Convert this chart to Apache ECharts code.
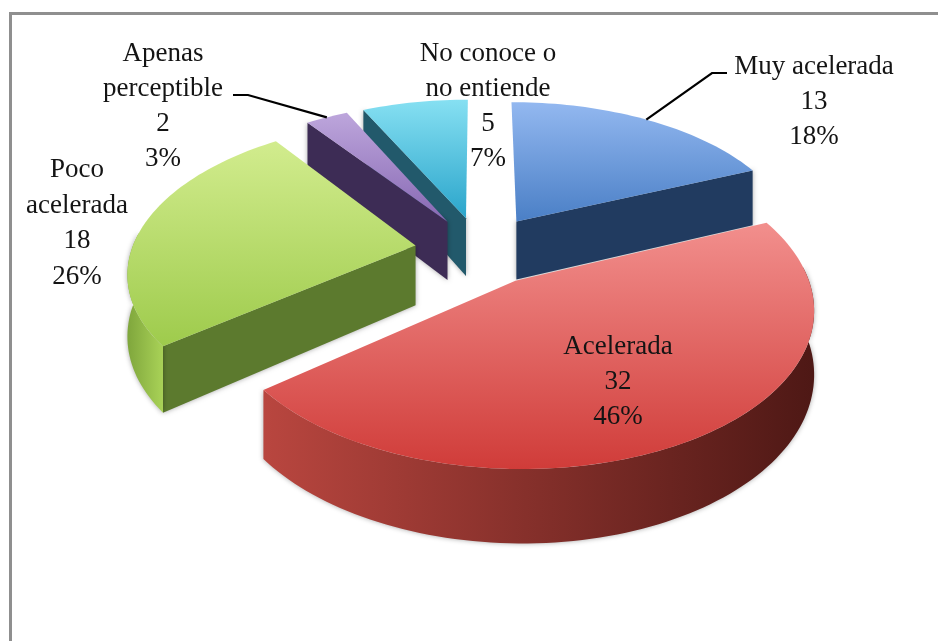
<!DOCTYPE html>
<html><head><meta charset="utf-8">
<style>html,body{margin:0;padding:0;background:#fff}#c{width:938px;height:641px}</style>
<script src="https://cdn.jsdelivr.net/npm/echarts@6/dist/echarts.min.js"></script>
</head><body><div id="c"></div>
<script>
var categories = ['Muy acelerada','Acelerada','Poco acelerada','Apenas perceptible','No conoce o no entiende'];
var labelNames = ['Muy acelerada','Acelerada','Poco\nacelerada','Apenas\nperceptible','No conoce o\nno entiende'];
var values = [13,32,18,2,5];
var percentLabels = ['18%','46%','26%','3%','7%'];

// styling
var topColors = [['#93b8f0','#4a7fc6'],['#f28f8d','#d03c39'],['#d2ec8e','#9ecb4c'],['#bda6dc','#8768b3'],['#86e0f2','#2aa5cb']];
var radialWall = ['#213b60','#7a2320','#5c7a2e','#3d2c55','#22596b'];
var outerWall = [['#213b60','#213b60'],['#b9463f','#4e1815'],['#7fa63c','#a9d257'],['#3d2c55','#3d2c55'],['#22596b','#22596b']];
var labelAnchors = [[814,67],[618,347],[77,170],[163,54],[488,54]];
var labelLineHeights = [35,35,35.5,35,35];
var leaderElbows = [[[712,73],[727,73]],null,null,[[248,95],[233,95]],null];
var explodes = [0.24,0.235,0.23,0.23,0.23];

// projection of the exploded pie
var proj = {cx:480, cy:250, A:284, B:147, k:0.161, h:60};
var total = values.reduce(function(a,b){return a+b;},0);
var rad = Math.PI/180;
function P(theta, r, mid, z, e){
  var u = r*Math.sin(theta*rad)+e*Math.sin(mid*rad);
  var v = r*Math.cos(theta*rad)+e*Math.cos(mid*rad);
  var s = 1/(1+proj.k*v);
  return [proj.cx+proj.A*u*s, proj.cy-proj.B*v*s+(z?proj.h*s:0)];
}
var angles = [], acc = 0;
values.forEach(function(v){ var a0=acc/total*360; acc+=v; angles.push([a0,acc/total*360]); });
var order = angles.map(function(a,i){return i;}).sort(function(p,q){
  return Math.cos((angles[q][0]+angles[q][1])/2*rad)-Math.cos((angles[p][0]+angles[p][1])/2*rad);
});
function grad(c){return {type:'linear',x:0,y:0,x2:0,y2:1,colorStops:[{offset:0,color:c[0]},{offset:1,color:c[1]}]};}
function gradH(c){return {type:'linear',x:0,y:0,x2:1,y2:0,colorStops:[{offset:0,color:c[0]},{offset:1,color:c[1]}]};}
function arc(a,b,mid,z,e){
  var pts=[], n=Math.max(2,Math.ceil((b-a)/1.5));
  for(var i=0;i<=n;i++) pts.push(P(a+(b-a)*i/n,1,mid,z,e));
  return pts;
}
function renderItem(params, api){
  var i = api.value(0), a = angles[i][0], b = angles[i][1], mid=(a+b)/2, e=explodes[i];
  var rank = order.indexOf(i)*10, kids=[];
  var shadow = {shadowBlur:5,shadowColor:'rgba(0,0,0,0.35)'};
  if(Math.sin(a*rad)<0) kids.push({type:'polygon',z2:rank,shape:{points:[P(0,0,mid,0,e),P(a,1,mid,0,e),P(a,1,mid,1,e),P(0,0,mid,1,e)]},style:Object.assign({fill:radialWall[i]},shadow)});
  if(Math.sin(b*rad)>0) kids.push({type:'polygon',z2:rank,shape:{points:[P(0,0,mid,0,e),P(b,1,mid,0,e),P(b,1,mid,1,e),P(0,0,mid,1,e)]},style:Object.assign({fill:radialWall[i]},shadow)});
  var oa=Math.max(a,85), ob=Math.min(b,275);
  if(ob>oa){
    kids.push({type:'polygon',z2:rank+1,shape:{points:arc(oa,ob,mid,0,e).concat(arc(oa,ob,mid,1,e).reverse())},style:Object.assign({fill:gradH(outerWall[i])},shadow)});
  }
  kids.push({type:'polygon',z2:rank+2,shape:{points:[P(0,0,mid,0,e)].concat(arc(a,b,mid,0,e))},style:{fill:grad(topColors[i])}});
  if(leaderElbows[i]){
    var tip=P(mid,1,mid,0,e);
    kids.push({type:'polyline',z2:200,shape:{points:[tip].concat(leaderElbows[i])},style:{fill:null,stroke:'#000',lineWidth:2.2}});
  }
  kids.push({type:'text',z2:210,x:labelAnchors[i][0],y:labelAnchors[i][1]-17.5,style:{
    text:labelNames[i]+'\n'+values[i]+'\n'+percentLabels[i],
    align:'center',verticalAlign:'top',
    font:'27px "Liberation Serif", serif',lineHeight:labelLineHeights[i],fill:'#141414'}});
  return {type:'group',children:kids};
}
var chart = echarts.init(document.getElementById('c'),null,{renderer:'canvas'});
chart.setOption({
  animation:false,
  backgroundColor:'#fff',
  graphic:[{type:'rect',z:-1,shape:{x:10.5,y:13.5,width:1100,height:1100},style:{fill:'#fff',stroke:'#8f8f8f',lineWidth:3}}],
  series:[{type:'custom',coordinateSystem:'none',renderItem:renderItem,
    data:categories.map(function(c,i){return {name:c,value:[i,values[i]]};})}]
});
</script></body></html>
